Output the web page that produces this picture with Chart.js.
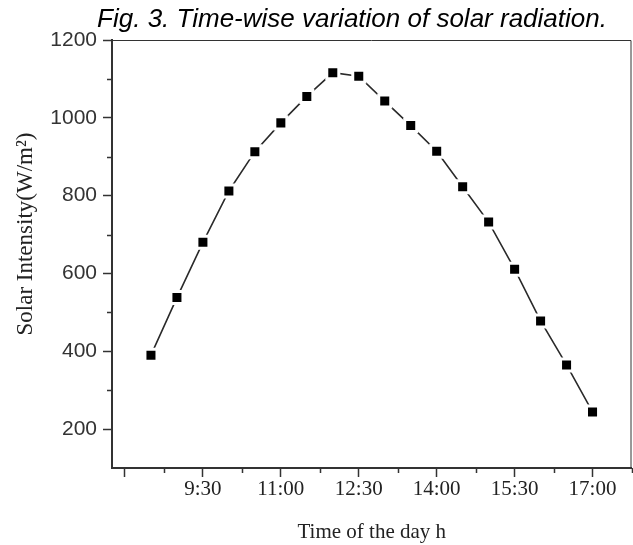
<!DOCTYPE html>
<html>
<head>
<meta charset="utf-8">
<script src="https://cdn.jsdelivr.net/npm/chart.js@4"></script>
<style>
  html, body { margin: 0; padding: 0; background: #fff; overflow: hidden; }
  #wrap { width: 633px; height: 545px; overflow: hidden; }
  canvas { display: block; }
</style>
</head>
<body>
<!-- canvas is a little wider than the page: Chart.js keeps ~12px spare on the right -->
<div id="wrap"><canvas id="chart" width="643" height="545"></canvas></div>
<script>
// Data
const times = ['8:30', '9:00', '9:30', '10:00', '10:30', '11:00', '11:30', '12:00', '12:30',
  '13:00', '13:30', '14:00', '14:30', '15:00', '15:30', '16:00', '16:30', '17:00'];
const intensity = [390, 538, 680, 812, 913, 987, 1055, 1116, 1107,
  1043, 980, 914, 823, 732, 611, 478, 365, 244];
const xMajorTicks = ['8:00', '9:30', '11:00', '12:30', '14:00', '15:30', '17:00'];
const xMinorTicks = ['8:45', '10:15', '11:45', '13:15', '14:45', '16:15', '17:45'];
const yMajorTicks = [200, 400, 600, 800, 1000, 1200];
const yMinorTicks = [300, 500, 700, 900, 1100];

const toMin = t => { const [h, m] = t.split(':'); return +h * 60 + +m; };
const fmtTime = v => Math.floor(v / 60) + ':' + String(v % 60).padStart(2, '0');

const axisColor = '#333';
const serif = "'Liberation Serif', 'Times New Roman', serif";
const sans = "'Liberation Sans', Arial, sans-serif";

// frame, minor ticks, figure caption and y title
const extras = {
  id: 'extras',
  afterDraw(chart) {
    const { ctx, chartArea: a, scales: { x, y } } = chart;
    ctx.save();
    ctx.strokeStyle = axisColor;
    ctx.lineWidth = 1;
    ctx.beginPath();
    ctx.moveTo(a.left, a.top + 0.5); ctx.lineTo(a.right - 0.5, a.top + 0.5);
    ctx.lineTo(a.right - 0.5, a.bottom);
    ctx.stroke();

    ctx.lineWidth = 1.5;
    ctx.beginPath();
    xMinorTicks.map(toMin).forEach(v => {
      const px = Math.round(x.getPixelForValue(v)) + 0.5;
      ctx.moveTo(px, a.bottom); ctx.lineTo(px, a.bottom + 5);
    });
    yMinorTicks.forEach(v => {
      const py = Math.round(y.getPixelForValue(v)) + 0.5;
      ctx.moveTo(a.left, py); ctx.lineTo(a.left - 5, py);
    });
    ctx.stroke();

    ctx.fillStyle = '#000';
    ctx.font = 'italic 26px ' + sans;
    ctx.textAlign = 'center';
    ctx.textBaseline = 'alphabetic';
    ctx.fillText('Fig. 3. Time-wise variation of solar radiation.', 352, 27);

    ctx.translate(32, 234);
    ctx.rotate(-Math.PI / 2);
    ctx.font = '23px ' + serif;
    ctx.fillStyle = '#222';
    ctx.fillText('Solar Intensity(W/m\u00B2)', 0, 0);
    ctx.restore();
  }
};

new Chart(document.getElementById('chart'), {
  type: 'line',
  data: {
    datasets: [{
      label: 'Solar Intensity',
      data: times.map((t, i) => ({ x: toMin(t), y: intensity[i] })),
      borderColor: '#2a2a2a',
      borderWidth: 1.6,
      tension: 0,
      pointStyle: 'rect',
      pointRadius: 8.5,
      pointHoverRadius: 8.5,
      pointBackgroundColor: '#000',
      pointBorderColor: '#fff',
      pointBorderWidth: 3,
    }],
  },
  options: {
    responsive: false, animation: false,
    layout: { padding: { top: 40, right: 2, left: 0, bottom: 0 } },
    plugins: { legend: { display: false }, tooltip: { enabled: false } },
    scales: {
      x: {
        type: 'linear', min: 465, max: 1065,
        afterFit: s => { s.height = 77; s.paddingLeft = 0; s.paddingRight = 0; },
        afterBuildTicks: s => { s.ticks = xMajorTicks.map(t => ({ value: toMin(t) })); },
        grid: { drawOnChartArea: false, tickLength: 9, tickColor: axisColor, tickWidth: 1.5 },
        border: { color: axisColor, width: 2 },
        ticks: {
          padding: 0, color: '#222', maxRotation: 0, autoSkip: false,
          font: { family: serif, size: 21 },
          callback: v => v === 480 ? '' : fmtTime(v),
        },
        title: {
          display: true, text: 'Time of the day h', color: '#222',
          font: { family: serif, size: 21 }, padding: { top: 0, bottom: 0 },
        },
      },
      y: {
        min: 100, max: 1200,
        afterFit: s => { s.width = 112; s.paddingTop = 0; s.paddingBottom = 0; },
        afterBuildTicks: s => { s.ticks = yMajorTicks.map(v => ({ value: v })); },
        grid: { drawOnChartArea: false, tickLength: 9, tickColor: axisColor, tickWidth: 1.5 },
        border: { color: axisColor, width: 2 },
        ticks: {
          padding: 6, color: '#333', font: { family: sans, size: 21 },
          callback: v => String(v),
        },
      },
    },
  },
  plugins: [extras],
});
</script>
</body>
</html>
